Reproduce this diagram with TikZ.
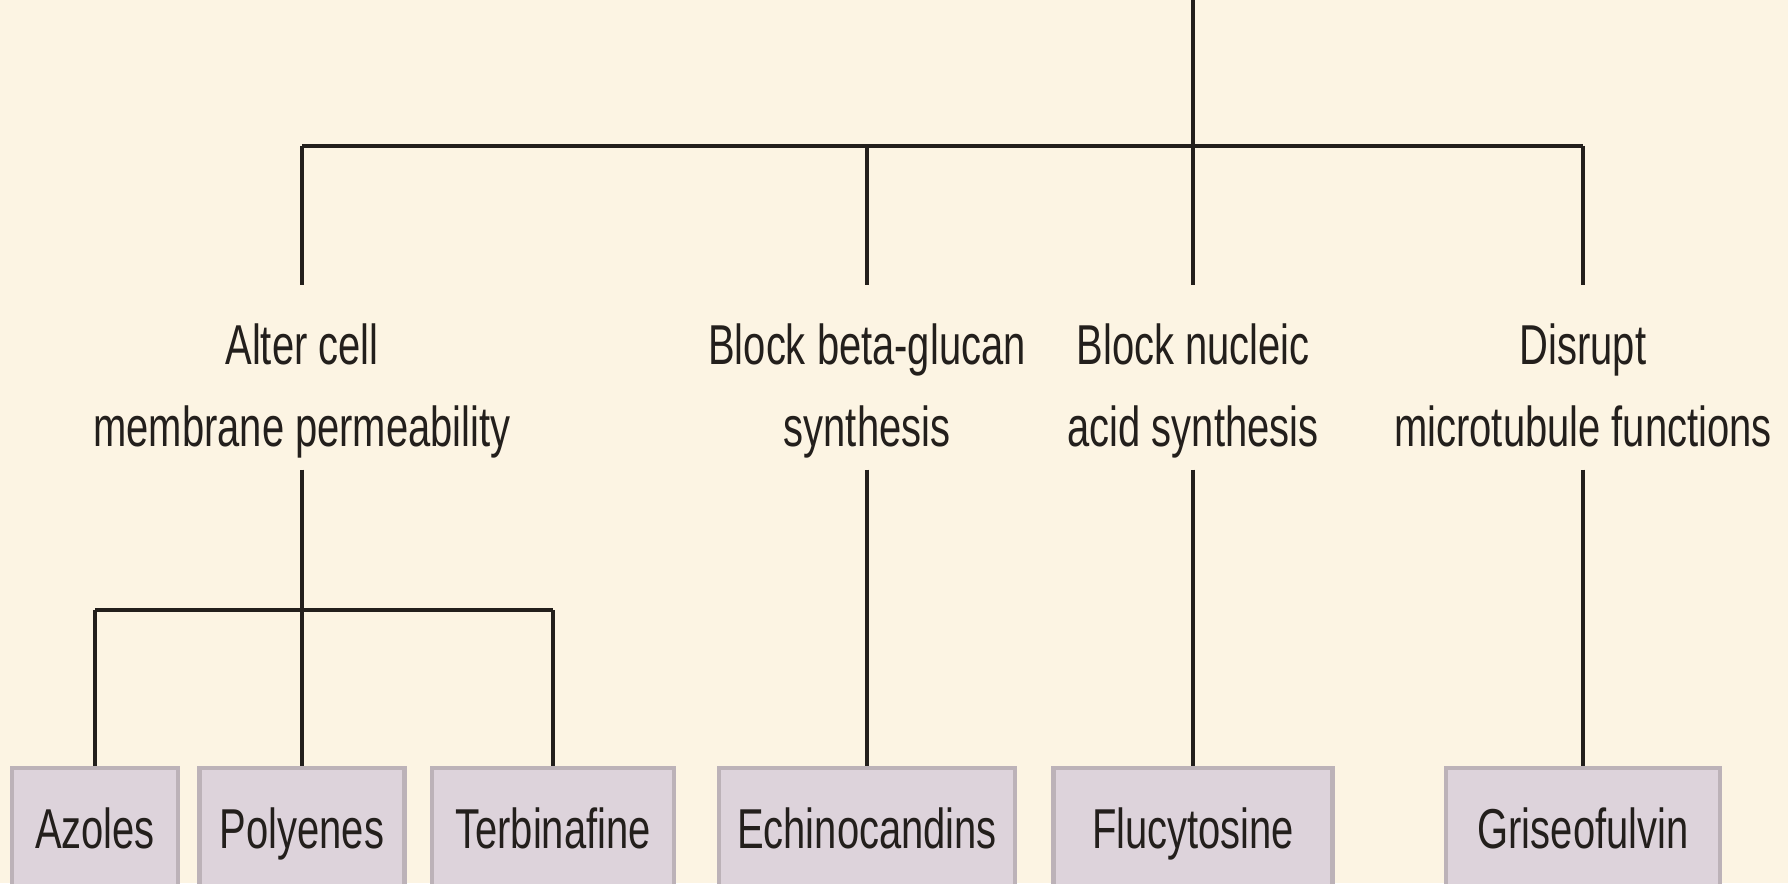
\documentclass[tikz,border=0pt]{standalone}
\usepackage{fontspec}
\setmainfont{Liberation Sans}[FakeStretch=0.71]
\usepackage{tikz}
\usetikzlibrary{positioning,calc}
\definecolor{cream}{RGB}{252,244,227}
\definecolor{boxfill}{RGB}{221,211,219}
\definecolor{boxline}{RGB}{188,178,184}
\definecolor{ink}{RGB}{35,31,28}

\begin{document}
\begin{tikzpicture}[
    font=\fontsize{16}{23.3}\selectfont,
    lk/.style={draw=ink,line width=0.9pt},
    mech/.style={align=center,inner sep=0pt,anchor=north,text=ink},
    drug/.style={draw=boxline,line width=1.2pt,fill=boxfill,minimum height=1.2cm,text height=0.41cm,text depth=0pt,inner sep=0pt,text=ink}
  ]
  \fill[cream] (0,0) rectangle (17.88,8.83);
  \useasboundingbox (0,0) rectangle (17.88,8.83);

  \coordinate (root) at (11.93,8.83);
  \coordinate (b1) at (3.02,7.37);
  \coordinate (b2) at (8.67,7.37);
  \coordinate (b3) at (11.93,7.37);
  \coordinate (b4) at (15.83,7.37);

  \node[mech] (alter) at (3.02,5.60) {Alter cell\\membrane permeability};
  \node[mech] (glucan) at (8.67,5.60) {Block beta-glucan\\synthesis};
  \node[mech] (nucleic) at (11.93,5.60) {Block nucleic\\acid synthesis};
  \node[mech] (tubule) at (15.83,5.60) {Disrupt\\microtubule functions\vphantom{y}};

  \coordinate (s1) at (0.95,2.73);
  \coordinate (s3) at (5.53,2.73);

  \node[drug,minimum width=1.66cm] (azoles) at (0.95,0.55) {Azoles};
  \node[drug,minimum width=2.05cm] (polyenes) at (3.02,0.55) {Polyenes};
  \node[drug,minimum width=2.42cm] (terbin) at (5.53,0.55) {Terbinafine};
  \node[drug,minimum width=2.96cm] (echino) at (8.67,0.55) {Echinocandins};
  \node[drug,minimum width=2.79cm] (flucyt) at (11.93,0.55) {Flucytosine};
  \node[drug,minimum width=2.74cm] (griseo) at (15.83,0.55) {Griseofulvin};

  \draw[lk] (root) -- (b3);
  \draw[lk] (b1) -- (b4);
  \draw[lk,shorten >=0.38cm] (b1) -- (alter.north);
  \draw[lk,shorten >=0.38cm] (b2) -- (glucan.north);
  \draw[lk,shorten >=0.38cm] (b3) -- (nucleic.north);
  \draw[lk,shorten >=0.38cm] (b4) -- (tubule.north);

  \draw[lk,shorten <=0.11cm] (alter.south) -- (polyenes.north);
  \draw[lk] (s1) -- (s3);
  \draw[lk] (s1) -- (azoles.north);
  \draw[lk] (s3) -- (terbin.north);
  \draw[lk,shorten <=0.11cm] (glucan.south) -- (echino.north);
  \draw[lk,shorten <=0.11cm] (nucleic.south) -- (flucyt.north);
  \draw[lk,shorten <=0.11cm] (tubule.south) -- (griseo.north);
\end{tikzpicture}
\end{document}
